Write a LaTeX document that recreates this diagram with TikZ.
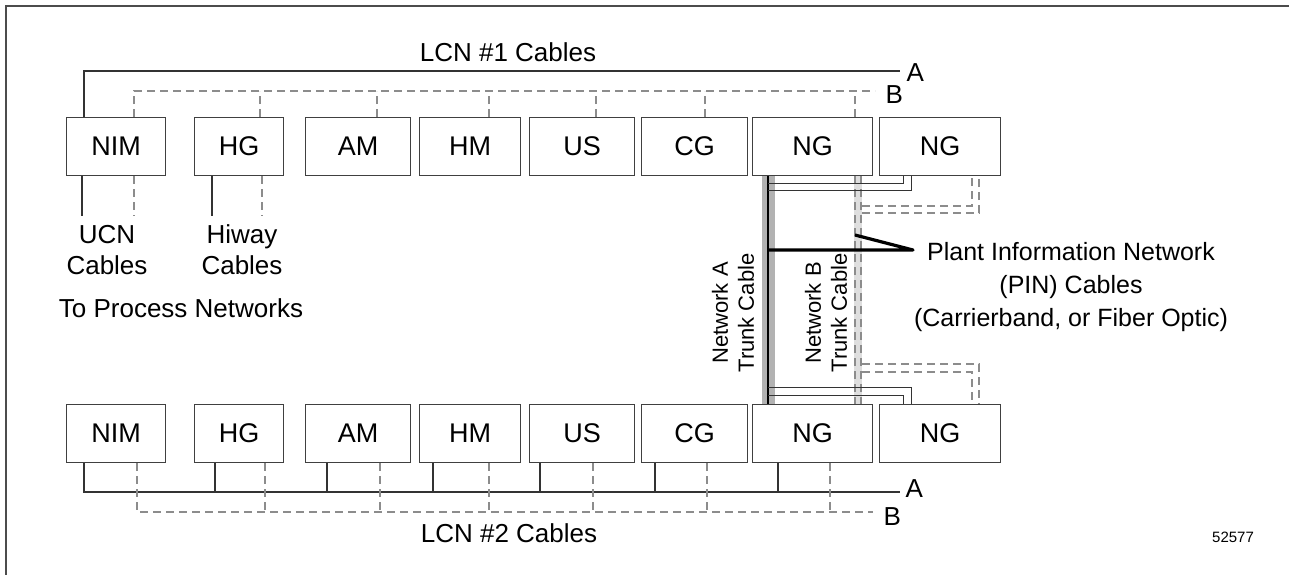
\documentclass[tikz,border=0pt]{standalone}
\usepackage{fontspec}
\setmainfont{Liberation Sans}
\usetikzlibrary{positioning}

\begin{document}
\begin{tikzpicture}[x=0.5pt,y=-0.5pt,
  unit/.style={draw=black!75,line width=0.6pt,anchor=north west,inner sep=0pt,
    minimum height=29pt,font=\fontsize{13.5}{16}\selectfont},
  cabA/.style={draw=black!80,line width=0.7pt},
  cabB/.style={draw=black!45,line width=0.6pt,dash pattern=on 4pt off 2.5pt},
  pin/.style={draw=black!80,line width=0.5pt},
  lbl/.style={font=\fontsize{13}{15.5}\selectfont,align=center,inner sep=0pt},
  trunk/.style={font=\fontsize{11}{13}\selectfont,align=center,rotate=90,inner sep=0pt}]
\useasboundingbox (0,0) rectangle (1289,575);
% frame
\draw[black!70,line width=0.75pt] (1289,6) -- (6,6) -- (6,575);

% units, LCN #1 row and LCN #2 row
\foreach \i/\x/\w/\t in {1/66/99/NIM,2/194/89/HG,3/305/105/AM,4/419/101/HM,
    5/529/105/US,6/641/106/CG,7/752/120/NG,8/879/121/NG}{
  \node[unit,minimum width=\w*0.5pt] (t\i) at (\x,117) {\t};
  \node[unit,minimum width=\w*0.5pt] (b\i) at (\x,404) {\t};
}

% LCN #1 cables
\coordinate (topA) at (900,71);
\coordinate (topB) at (875,91);
\draw[cabA] (t1.north -| 84,0) |- (topA) node[lbl,anchor=west,xshift=3pt,yshift=-1pt] {A};
\draw[cabB] (t1.north -| 134,0) |- (topB) node[lbl,anchor=west,xshift=5pt,yshift=-2pt] {B};
\foreach \n/\x in {t2/260,t3/377,t4/489,t5/596,t6/705,t7/855}
  \draw[cabB] (\n.north -| \x,0) -- (\x,0 |- topB);
\node[lbl] (lcn1) at (508,52) {LCN \#1 Cables};

% LCN #2 cables
\coordinate (botA) at (900,492);
\coordinate (botB) at (873,512);
\draw[cabA] (b1.south -| 84,0) |- (botA) node[lbl,anchor=west,xshift=2.5pt,yshift=1.5pt] {A};
\draw[cabB] (b1.south -| 137,0) |- (botB) node[lbl,anchor=west,xshift=5pt,yshift=-2.5pt] {B};
\foreach \n/\x in {b2/215,b3/327,b4/433,b5/540,b6/655,b7/778}
  \draw[cabA] (\n.south -| \x,0) -- (\x,0 |- botA);
\foreach \n/\x in {b2/265,b3/380,b4/489,b5/593,b6/707,b7/830}
  \draw[cabB] (\n.south -| \x,0) -- (\x,0 |- botB);
\node[lbl] (lcn2) at (509,533) {LCN \#2 Cables};

% to process networks
\draw[cabA] (t1.south -| 82,0) -- ++(0,40);
\draw[cabB] (t1.south -| 134,0) -- ++(0,40);
\draw[cabA] (t2.south -| 212,0) -- ++(0,40);
\draw[cabB] (t2.south -| 262,0) -- ++(0,40);
\node[lbl] (ucn) at (107,250) {UCN\\Cables};
\node[lbl] (hiway) at (242,250) {Hiway\\Cables};
\node[lbl] (proc) at (181,308) {To Process Networks};

% trunk cables
\fill[black!30] (t7.south -| 762,0) rectangle (b7.north -| 775,0);
\draw[black,line width=0.8pt] (t7.south -| 768,0) -- (b7.north -| 768,0);
\fill[black!13] (t7.south -| 854,0) rectangle (b7.north -| 862,0);
\draw[cabB] (t7.south -| 855,0) -- (b7.north -| 855,0);
\draw[cabB] (t7.south -| 861,0) -- (b7.north -| 861,0);
\node[trunk] (trA) at (733,313) {Network A\\Trunk Cable};
\node[trunk] (trB) at (826,313) {Network B\\Trunk Cable};

% PIN cables
\draw[pin] (768,183) -| (t8.south -| 903,0);
\draw[pin] (768,190) -| (t8.south -| 911,0);
\draw[cabB] (862,206) -| (t8.south -| 972,0);
\draw[cabB] (862,213) -| (t8.south -| 979,0);
\draw[pin] (768,387) -| (b8.north -| 911,0);
\draw[pin] (768,395) -| (b8.north -| 903,0);
\draw[cabB] (862,364) -| (b8.north -| 979,0);
\draw[cabB] (862,372) -| (b8.north -| 972,0);

\node[font=\fontsize{12.5}{16.5}\selectfont,align=center,inner sep=0pt] (pinlbl) at (1071,287)
  {Plant Information Network\\(PIN) Cables\\(Carrierband, or Fiber Optic)};
\coordinate (pinTip) at (913,250);
\draw[black,line width=1.6pt,line join=round] (767,250) -- (pinTip) -- (855,235);

\node[font=\fontsize{7.5}{9}\selectfont,inner sep=0pt] (fig) at (1233,537) {52577};
\end{tikzpicture}
\end{document}
